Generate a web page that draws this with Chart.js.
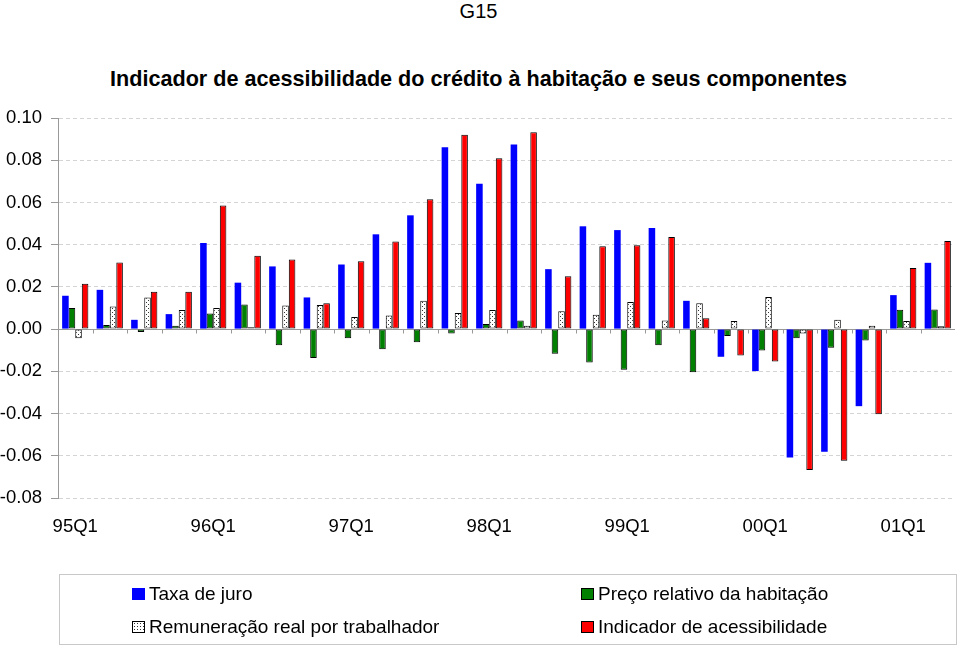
<!DOCTYPE html>
<html lang="pt">
<head>
  <meta charset="UTF-8" />
  <title>G15 | Indicador de acessibilidade</title>
  <script src="https://cdn.jsdelivr.net/npm/chart.js"></script>
  <style>
    html, body { margin: 0; padding: 0; background: #fff; }
    body { width: 960px; height: 648px; position: relative; overflow: hidden;
           font-family: "Liberation Sans", Arial, sans-serif; color: #000; }
    #chart { position: absolute; left: 0; top: 0; }
    .g-num { position: absolute; left: 0; width: 957px; top: -1px; text-align: center;
             font-size: 20px; line-height: 24px; }
    .g-title { position: absolute; left: 0; width: 957px; top: 67px; text-align: center;
               font-size: 21.6px; font-weight: bold; line-height: 24px; }
    .legend { position: absolute; left: 59px; top: 574px; width: 896px; height: 69px;
              border: 1px solid #c8c8c8; }
    .legend .item { position: absolute; display: flex; align-items: center; height: 20px;
                    font-size: 19px; line-height: 20px; white-space: nowrap; }
    .legend .sw { width: 13px; height: 12px; box-sizing: border-box; margin-right: 4px;
                  border: 1px solid #000; }
  </style>
</head>
<body>
  <div class="g-num">G15</div>
  <div class="g-title">Indicador de acessibilidade do crédito à habitação e seus componentes</div>
  <canvas id="chart" width="960" height="648"></canvas>
  <div class="legend" id="legend"></div>

  <script>
    // trimestres 95Q1 .. 01Q2
    const quarters = ['95Q1','95Q2','95Q3','95Q4','96Q1','96Q2','96Q3','96Q4',
                      '97Q1','97Q2','97Q3','97Q4','98Q1','98Q2','98Q3','98Q4',
                      '99Q1','99Q2','99Q3','99Q4','00Q1','00Q2','00Q3','00Q4',
                      '01Q1','01Q2'];
    const tickLabels = ['95Q1','96Q1','97Q1','98Q1','99Q1','00Q1','01Q1'];
    const yTicks = [-0.08, -0.06, -0.04, -0.02, 0.00, 0.02, 0.04, 0.06, 0.08, 0.10];

    const taxaJuro = [0.0158, 0.0186, 0.0044, 0.0071, 0.0408, 0.0220, 0.0297, 0.0150,
                      0.0306, 0.0449, 0.0539, 0.0861, 0.0689, 0.0875, 0.0284, 0.0487,
                      0.0469, 0.0479, 0.0134, -0.0131, -0.0199, -0.0608, -0.0581, -0.0365,
                      0.0161, 0.0314];
    const precoRelativo = [0.0100, 0.0019, -0.0014, 0.0016, 0.0074, 0.0117, -0.0077, -0.0137,
                           -0.0043, -0.0095, -0.0062, -0.0021, 0.0024, 0.0041, -0.0117, -0.0158,
                           -0.0193, -0.0077, -0.0204, -0.0033, -0.0101, -0.0043, -0.0088, -0.0054,
                           0.0092, 0.0093];
    const remuneracao = [-0.0043, 0.0107, 0.0150, 0.0090, 0.0100, 0.0009, 0.0112, 0.0114,
                         0.0057, 0.0065, 0.0134, 0.0076, 0.0090, 0.0016, 0.0085, 0.0068,
                         0.0128, 0.0041, 0.0123, 0.0039, 0.0152, -0.0021, 0.0044, 0.0016,
                         0.0038, 0.0013];
    const indicador = [0.0215, 0.0316, 0.0177, 0.0177, 0.0586, 0.0348, 0.0330, 0.0123,
                       0.0321, 0.0415, 0.0615, 0.0921, 0.0809, 0.0932, 0.0250, 0.0392,
                       0.0397, 0.0436, 0.0051, -0.0125, -0.0153, -0.0667, -0.0624, -0.0403,
                       0.0289, 0.0417];

    // white fill with small dark dots
    function dotPattern(ctx) {
      const c = document.createElement('canvas');
      c.width = 4; c.height = 4;
      const p = c.getContext('2d');
      p.fillStyle = '#fff';
      p.fillRect(0, 0, 4, 4);
      p.fillStyle = '#333';
      p.fillRect(0, 0, 1, 1);
      p.fillRect(2, 2, 1, 1);
      return ctx.createPattern(c, 'repeat');
    }

    const canvas = document.getElementById('chart');
    const ctx = canvas.getContext('2d');

    // solid zero line and little ticks between quarters, like the original
    const zeroAxis = {
      id: 'zeroAxis',
      beforeDatasetsDraw(chart) {
        const { ctx, chartArea, scales: { x, y } } = chart;
        const y0 = Math.round(y.getPixelForValue(0)) + 0.5;
        ctx.save();
        ctx.strokeStyle = '#999';
        ctx.lineWidth = 1;
        ctx.beginPath();
        ctx.moveTo(chartArea.left, y0);
        ctx.lineTo(chartArea.right, y0);
        for (let i = 1; i < quarters.length; i++) {
          const xb = Math.round(x.getPixelForValue(i - 0.5)) + 0.5;
          ctx.moveTo(xb, y0);
          ctx.lineTo(xb, y0 + 4);
        }
        ctx.stroke();
        ctx.restore();
      }
    };

    const font = { family: '"Liberation Sans", Arial, sans-serif', size: 18.5 };

    const chart = new Chart(ctx, {
      type: 'bar',
      data: {
        labels: quarters,
        datasets: [
          { label: 'Taxa de juro', data: taxaJuro, backgroundColor: '#0000ff', borderWidth: 0 },
          { label: 'Preço relativo da habitação', data: precoRelativo, backgroundColor: '#008000',
            borderColor: '#000', borderWidth: 1 },
          { label: 'Remuneração real por trabalhador', data: remuneracao, backgroundColor: dotPattern(ctx),
            borderColor: '#000', borderWidth: 1 },
          { label: 'Indicador de acessibilidade', data: indicador, backgroundColor: '#ff0000',
            borderColor: '#000', borderWidth: 1 }
        ]
      },
      options: {
        responsive: false,
        animation: false,
        layout: { padding: { left: 0, right: 5, top: 118, bottom: 0 } },
        datasets: {
          bar: { categoryPercentage: 0.76, barPercentage: 1.0, borderSkipped: false }
        },
        plugins: {
          legend: { display: false },
          title: { display: false },
          tooltip: { enabled: false }
        },
        scales: {
          x: {
            grid: { display: false, drawTicks: false },
            border: { display: false },
            ticks: {
              autoSkip: false, maxRotation: 0, minRotation: 0, padding: 18,
              color: '#000', font: font,
              callback: (v, i) => tickLabels.includes(quarters[i]) ? quarters[i] : ''
            },
            afterFit: s => { s.height = 150; }
          },
          y: {
            min: yTicks[0],
            max: yTicks[yTicks.length - 1],
            afterBuildTicks: s => { s.ticks = yTicks.map(v => ({ value: v })); },
            grid: { color: '#d4d4d4', lineWidth: 1, drawTicks: true, tickLength: 7,
                    tickColor: '#999', tickBorderDash: [] },
            border: { display: true, color: '#999', width: 1, dash: [4, 3] },
            ticks: { color: '#000', font: font, padding: 9,
                     callback: v => v.toFixed(2) },
            afterFit: s => { s.width = 58; }
          }
        }
      },
      plugins: [zeroAxis]
    });

    // legend in two columns, built from the datasets
    const legend = document.getElementById('legend');
    const slots = [[72, 13], [521, 13], [72, 46], [521, 46]];
    const order = [0, 1, 2, 3];
    order.forEach((di, k) => {
      const ds = chart.data.datasets[di];
      const item = document.createElement('div');
      item.className = 'item';
      item.style.left = slots[k][0] + 'px';
      item.style.top = (slots[k][1] - 4) + 'px';
      const sw = document.createElement('span');
      sw.className = 'sw';
      if (di === 0) {
        sw.style.background = '#0000ff';
        sw.style.borderColor = '#0000ff';
      } else if (di === 2) {
        sw.style.background = '#fff';
        sw.style.backgroundImage = 'radial-gradient(#333 0.7px, transparent 0.9px)';
        sw.style.backgroundSize = '3px 3px';
      } else {
        sw.style.background = ds.backgroundColor;
      }
      item.appendChild(sw);
      item.appendChild(document.createTextNode(ds.label));
      legend.appendChild(item);
    });
  </script>
</body>
</html>
